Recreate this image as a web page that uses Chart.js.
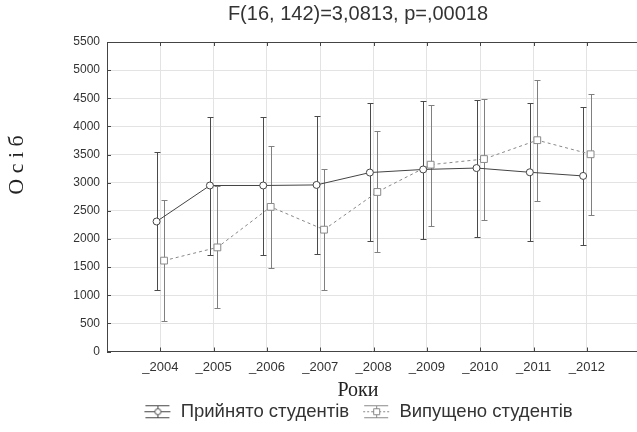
<!DOCTYPE html>
<html>
<head>
<meta charset="utf-8">
<script src="https://cdn.jsdelivr.net/npm/chart.js@4.4.1/dist/chart.umd.min.js"></script>
<style>
  html, body { margin: 0; padding: 0; background: #fff; }
  #wrap { width: 637px; height: 432px; }
</style>
</head>
<body>
<div id="wrap"><canvas id="chart"></canvas></div>
<script>
// дані з графіка
const years = [2004, 2005, 2006, 2007, 2008, 2009, 2010, 2011, 2012];
const yearLabels = ['_2004', '_2005', '_2006', '_2007', '_2008', '_2009', '_2010', '_2011', '_2012'];

const admittedMean = [2310, 2950, 2950, 2960, 3180, 3235, 3260, 3185, 3120];
const admittedLow  = [1090, 1720, 1720, 1730, 1960, 2005, 2030, 1965, 1895];
const admittedHigh = [3545, 4175, 4175, 4180, 4410, 4455, 4475, 4410, 4340];

const graduatedMean = [1615, 1850, 2570, 2165, 2835, 3320, 3420, 3755, 3505];
const graduatedLow  = [540, 775, 1485, 1095, 1760, 2230, 2340, 2680, 2430];
const graduatedHigh = [2690, 2940, 3645, 3240, 3910, 4385, 4495, 4825, 4575];

const yTicks = [0, 500, 1000, 1500, 2000, 2500, 3000, 3500, 4000, 4500, 5000, 5500];

const titleText = 'F(16, 142)=3,0813, p=,00018';
const xTitle = 'Роки';
const yTitle = 'О с і б';
const seriesNames = ['Прийнято студентів', 'Випущено студентів'];

const dodge = 0.07; // невеликий зсув, щоб вуса не накладались

function points(mean, low, high, shift) {
    return years.map((y, i) => ({ x: y + shift, y: mean[i], lo: low[i], hi: high[i] }));
}

// іконка для легенди: лінія, маркер і вус
function legendIcon(color, dashed, square) {
    const c = document.createElement('canvas');
    c.width = 28; c.height = 15;
    const g = c.getContext('2d');
    g.strokeStyle = color;
    g.lineWidth = 1;
    g.beginPath();
    g.moveTo(2, 1.5); g.lineTo(26, 1.5);
    g.moveTo(2, 13.5); g.lineTo(26, 13.5);
    g.moveTo(14.5, 1.5); g.lineTo(14.5, 13.5);
    g.stroke();
    g.setLineDash(dashed ? [2, 2] : []);
    g.beginPath();
    g.moveTo(1, 7.5); g.lineTo(27, 7.5);
    g.stroke();
    g.setLineDash([]);
    g.fillStyle = '#fff';
    g.beginPath();
    if (square) g.rect(11.5, 4.5, 6, 6);
    else g.arc(14.5, 7.5, 3, 0, Math.PI * 2);
    g.fill(); g.stroke();
    return c;
}

const errorBars = {
    id: 'errorBars',
    // підписи осі Y виходять за межі вузької осі, тому розширюємо її зону
    afterLayout(chart) { chart.scales.y.left = 0; },
    beforeDatasetsDraw(chart) {
        const { ctx, scales: { x, y } } = chart;
        ctx.save();
        chart.data.datasets.forEach((ds) => {
            ctx.strokeStyle = ds.whiskerColor;
            ctx.lineWidth = 1;
            ds.data.forEach((p) => {
                const px = Math.round(x.getPixelForValue(p.x)) + 0.5;
                const top = Math.round(y.getPixelForValue(p.hi)) + 0.5;
                const bot = Math.round(y.getPixelForValue(p.lo)) + 0.5;
                ctx.beginPath();
                ctx.moveTo(px, top); ctx.lineTo(px, bot);
                ctx.moveTo(px - 3, top); ctx.lineTo(px + 3, top);
                ctx.moveTo(px - 3, bot); ctx.lineTo(px + 3, bot);
                ctx.stroke();
            });
        });
        ctx.restore();
    }
};

// верхня рамка, внутрішні засічки і підписи осей
const frame = {
    id: 'frame',
    afterDraw(chart) {
        const { ctx, chartArea: a, scales: { x, y } } = chart;
        ctx.save();
        ctx.strokeStyle = '#444';
        ctx.lineWidth = 1;
        ctx.beginPath();
        ctx.moveTo(a.left, a.top + 0.5); ctx.lineTo(a.right, a.top + 0.5);
        years.forEach((v) => {
            const px = Math.round(x.getPixelForValue(v)) + 0.5;
            ctx.moveTo(px, a.bottom); ctx.lineTo(px, a.bottom - 4);
            ctx.moveTo(px, a.top); ctx.lineTo(px, a.top + 4);
        });
        yTicks.forEach((v) => {
            const py = Math.round(y.getPixelForValue(v)) + 0.5;
            ctx.moveTo(a.left, py); ctx.lineTo(a.left + 4, py);
        });
        ctx.stroke();

        ctx.fillStyle = '#222';
        ctx.textAlign = 'center';
        ctx.textBaseline = 'middle';
        ctx.font = '20px "Liberation Serif"';
        const mid = (chart.legend.left + chart.legend.right) / 2;
        ctx.fillText(xTitle, mid, a.bottom + 39);

        ctx.translate(17, 165);
        ctx.rotate(-Math.PI / 2);
        ctx.font = '22px "Liberation Serif"';
        ctx.fillText(yTitle, 0, 0);
        ctx.restore();
    }
};

const ctx = document.getElementById('chart').getContext('2d');
new Chart(ctx, {
    type: 'line',
    data: {
        datasets: [{
            label: seriesNames[0],
            data: points(admittedMean, admittedLow, admittedHigh, -dodge),
            borderColor: '#444',
            borderWidth: 1,
            pointStyle: 'circle',
            pointRadius: 3.5,
            pointBackgroundColor: '#fff',
            pointBorderColor: '#444',
            pointBorderWidth: 1,
            whiskerColor: '#4a4a4a',
            icon: legendIcon('#444', false, false)
        }, {
            label: seriesNames[1],
            data: points(graduatedMean, graduatedLow, graduatedHigh, dodge),
            borderColor: '#888',
            borderWidth: 1,
            borderDash: [3, 3],
            pointStyle: 'rect',
            pointRadius: 4.8,
            pointBackgroundColor: '#fff',
            pointBorderColor: '#888',
            pointBorderWidth: 1,
            whiskerColor: '#808080',
            icon: legendIcon('#888', true, true)
        }]
    },
    options: {
        responsive: true,
        maintainAspectRatio: false,
        animation: false,
        layout: { autoPadding: false, padding: { left: 79, right: 0, top: 0, bottom: 1 } },
        plugins: {
            title: {
                display: true,
                text: titleText,
                color: '#333',
                font: { family: 'Liberation Sans', size: 20, weight: 'normal' },
                padding: { top: 2, bottom: 16 }
            },
            legend: {
                position: 'bottom',
                labels: {
                    usePointStyle: true,
                    pointStyleWidth: 28,
                    color: '#333',
                    font: { family: 'Liberation Sans', size: 18.5 },
                    padding: 13,
                    generateLabels(chart) {
                        return chart.data.datasets.map((ds, i) => ({
                            text: ds.label,
                            pointStyle: ds.icon,
                            fontColor: '#333',
                            hidden: false,
                            datasetIndex: i,
                            lineWidth: 0
                        }));
                    }
                }
            },
            tooltip: { enabled: false }
        },
        scales: {
            x: {
                type: 'linear',
                min: 2003,
                max: 2012.94,
                afterBuildTicks(axis) { axis.ticks = years.map(v => ({ value: v })); },
                afterFit(axis) {
                    axis.height = 38;
                    axis.paddingLeft = 0;
                    axis.paddingRight = 0;
                },
                ticks: {
                    autoSkip: false,
                    maxRotation: 0,
                    color: '#333',
                    font: { family: 'Liberation Sans', size: 13 },
                    padding: 8,
                    callback: (v) => yearLabels[years.indexOf(v)] || ''
                },
                grid: { color: '#e3e3e3', drawTicks: false },
                border: { color: '#444' }
            },
            y: {
                min: 0,
                max: 5500,
                afterBuildTicks(axis) { axis.ticks = yTicks.map(v => ({ value: v })); },
                afterFit(axis) { axis.width = 28; },
                ticks: {
                    color: '#333',
                    font: { family: 'Liberation Sans', size: 12 },
                    padding: 7,
                    callback: (v) => String(v)
                },
                grid: { color: '#e3e3e3', drawTicks: false },
                border: { color: '#444' }
            }
        }
    },
    plugins: [errorBars, frame]
});
</script>
</body>
</html>
